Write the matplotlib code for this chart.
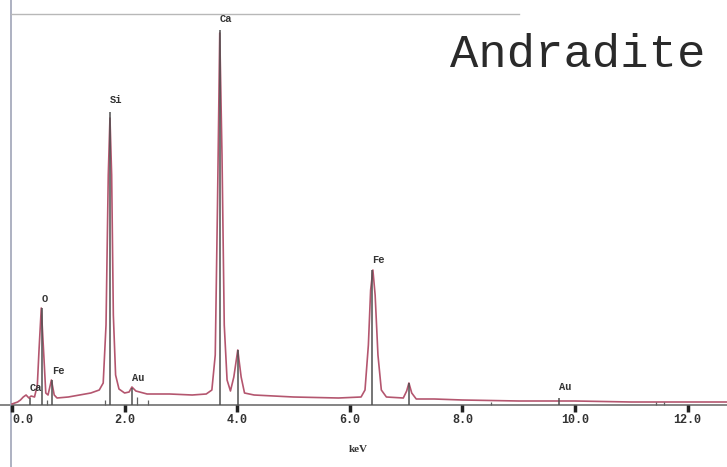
import matplotlib
matplotlib.use("Agg")
import matplotlib.pyplot as plt

# --- spectrum (keV, counts in arbitrary units) ---
energy = [0.00, 0.05, 0.10, 0.15, 0.20, 0.25, 0.30, 0.34, 0.40, 0.45, 0.48, 0.52,
          0.56, 0.60, 0.64, 0.70, 0.75, 0.80, 1.00, 1.20, 1.40, 1.55, 1.62, 1.67,
          1.71, 1.74, 1.77, 1.80, 1.84, 1.90, 2.00, 2.08, 2.13, 2.20, 2.40, 2.80,
          3.20, 3.45, 3.55, 3.61, 3.65, 3.69, 3.73, 3.77, 3.82, 3.88, 3.94, 4.01,
          4.07, 4.13, 4.30, 5.00, 5.80, 6.20, 6.27, 6.33, 6.37, 6.41, 6.45, 6.50,
          6.56, 6.65, 6.95, 7.01, 7.05, 7.10, 7.18, 7.50, 8.00, 9.00, 10.00, 11.00,
          12.00, 12.70]
counts = [1, 2, 3, 5, 8, 10, 7, 9, 8, 20, 55, 97,
          55, 12, 10, 25, 10, 7, 8, 10, 12, 15, 22, 80,
          230, 287, 230, 90, 30, 16, 12, 13, 18, 14, 11, 11,
          10, 11, 15, 50, 200, 372, 250, 80, 25, 14, 28, 55,
          28, 12, 10, 8, 7, 8, 15, 60, 115, 135, 110, 50,
          15, 8, 7, 14, 22, 12, 6, 6, 5, 4, 4, 3,
          3, 3]

# element line markers
marker_kev = [0.32, 0.53, 0.71, 1.74, 2.13, 3.69, 4.01, 6.40, 7.06, 9.71]
marker_top = [7, 97, 25, 293, 17, 375, 55, 135, 22, 7]
marker_label = ["Ca", "O", "Fe", "Si", "Au", "Ca", "", "Fe", "", "Au"]
label_height = [9, 98, 26, 297, 19, 378, 0, 137, 0, 10]

minor_kev = [0.62, 1.65, 2.22, 2.42, 8.50, 11.44, 11.58]
minor_top = [5, 5, 8, 5, 3, 3, 3]

tick_kev = [0, 2, 4, 6, 8, 10, 12]
tick_labels = ["0.0", "2.0", "4.0", "6.0", "8.0", "10.0", "12.0"]

fig = plt.figure(figsize=(7.27, 4.67), dpi=100)
ax = fig.add_axes([0, 0, 1, 1])
ax.set_xlim(-12 / 56.3, 715 / 56.3)
ax.set_ylim(-62, 405)
ax.axis("off")

# frame lines of the scanned plot
ax.axhline(0, color="#707070", lw=1.2, zorder=1)
ax.axvline(-1 / 56.3, color="#a0a4b8", lw=1.2)
ax.plot([-1 / 56.3, 9.0], [391, 391], color="#b8b8b8", lw=1.0)

ax.plot(energy, counts, color="#b4566f", lw=1.2, zorder=3)

ax.vlines(marker_kev, 0, marker_top, color="#505050", lw=1.1, zorder=4)
ax.vlines(minor_kev, 0, minor_top, color="#606060", lw=0.9, zorder=4)
for x, h, lab in zip(marker_kev, label_height, marker_label):
    if lab:
        ax.text(x, h + 3, lab, ha="left", va="bottom", fontsize=7.5,
                family="Liberation Mono", weight="bold", color="#333333")

ax.vlines(tick_kev, -7, 0, color="#222222", lw=2.5, zorder=4)
for x, lab in zip(tick_kev, tick_labels):
    ax.text(x, -15, lab, ha="left" if x == 0 else "center", va="center",
            fontsize=8.5, family="Liberation Mono", weight="bold", color="#333333")

ax.text(6.15, -45, "keV", ha="center", va="center", fontsize=8,
        family="Liberation Serif", weight="bold", color="#333333")

ax.text(7.78, 338, "Andradite", ha="left", va="baseline", fontsize=34,
        family="Liberation Mono", color="#2a2a2a")

fig.savefig("out.png", dpi=100, facecolor="white")
